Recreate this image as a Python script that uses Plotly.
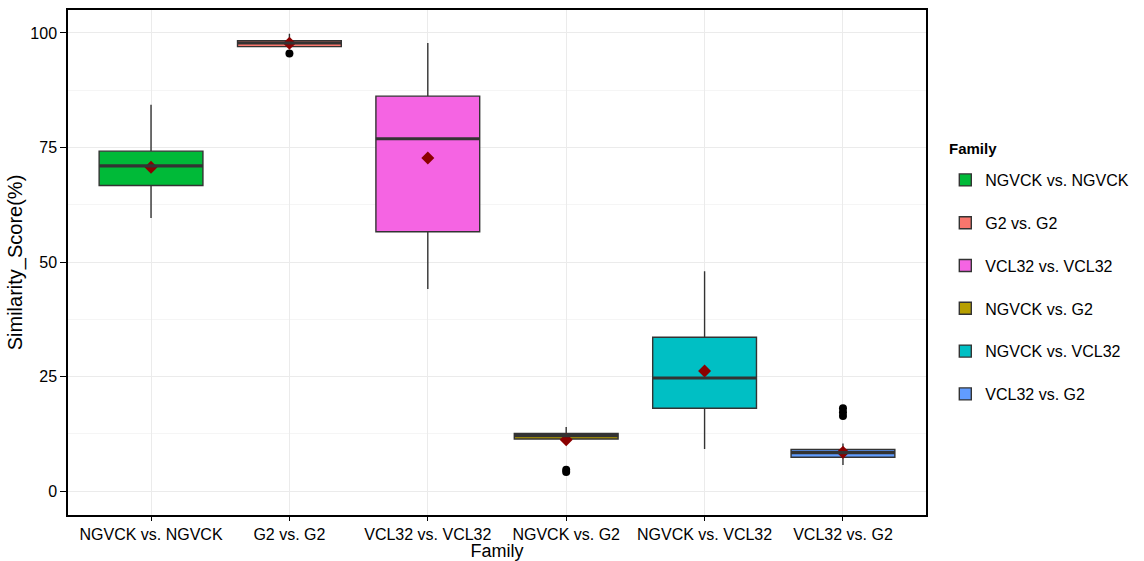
import plotly.graph_objects as go

categories = ["NGVCK vs. NGVCK", "G2 vs. G2", "VCL32 vs. VCL32",
              "NGVCK vs. G2", "NGVCK vs. VCL32", "VCL32 vs. G2"]
colors = ["#00BA38", "#F8766D", "#F564E3", "#B79F00", "#00BFC4", "#619CFF"]
lower_whisker = [59.6, 97.0, 44.1, 11.2, 9.2, 5.7]
q1 = [66.7, 97.0, 56.6, 11.4, 18.1, 7.4]
median = [71.0, 97.8, 76.9, 12.1, 24.7, 8.4]
q3 = [74.2, 98.3, 86.2, 12.6, 33.6, 9.1]
upper_whisker = [84.3, 99.8, 97.8, 14.0, 48.0, 10.4]
means = [70.7, 97.75, 72.7, 11.2, 26.2, 8.5]
outlier_cat = ["G2 vs. G2", "NGVCK vs. G2", "NGVCK vs. G2",
               "VCL32 vs. G2", "VCL32 vs. G2", "VCL32 vs. G2"]
outlier_val = [95.5, 4.2, 4.7, 16.4, 17.2, 18.1]

FONT = "Liberation Sans, Arial, sans-serif"
BOX_W = 0.75

fig = go.Figure()
for i, cat in enumerate(categories):
    fig.add_trace(go.Box(
        x=[cat], q1=[q1[i]], median=[median[i]], q3=[q3[i]],
        lowerfence=[lower_whisker[i]], upperfence=[upper_whisker[i]],
        name=cat, legendgroup=cat, fillcolor=colors[i],
        line=dict(color="#333333", width=1.4), whiskerwidth=0,
        width=BOX_W, boxpoints=False, showlegend=True,
    ))
    # thicker median line
    fig.add_shape(type="line", xref="x", yref="y",
                  x0=i - BOX_W / 2, x1=i + BOX_W / 2,
                  y0=median[i], y1=median[i],
                  line=dict(color="#333333", width=3.2))

fig.add_trace(go.Scatter(
    x=outlier_cat, y=outlier_val, mode="markers",
    marker=dict(color="black", size=8), showlegend=False, hoverinfo="y"))
fig.add_trace(go.Scatter(
    x=categories, y=means, mode="markers",
    marker=dict(color="#8B0000", size=10, symbol="diamond"),
    showlegend=False, hoverinfo="y"))

fig.add_annotation(text="<b>Family</b>", xref="paper", yref="paper",
                   x=1.0245, y=(515 - 148) / 505, xanchor="left", yanchor="middle",
                   showarrow=False, font=dict(size=15, family=FONT))

fig.update_layout(
    width=1144, height=561,
    margin=dict(l=68, r=215, t=10, b=46),
    paper_bgcolor="white", plot_bgcolor="white",
    font=dict(family=FONT, size=16, color="black"),
    boxmode="overlay",
    legend=dict(
        x=1.0225, xanchor="left", y=(515 - 163) / 505, yanchor="top",
        font=dict(size=16), tracegroupgap=19, itemwidth=30,
        bgcolor="rgba(0,0,0,0)",
    ),
    xaxis=dict(
        type="category", categoryorder="array", categoryarray=categories,
        range=[-0.6, len(categories) - 0.4], automargin=False,
        showgrid=True, gridcolor="#ebebeb", gridwidth=1,
        showline=True, linecolor="black", linewidth=1.5, mirror=True,
        ticks="outside", ticklen=4, tickcolor="black",
        tickfont=dict(size=16),
        title=dict(text="Family", font=dict(size=18), standoff=0),
        zeroline=False,
    ),
    yaxis=dict(
        range=[-5.2, 105], automargin=False,
        tickvals=[0, 25, 50, 75, 100],
        showgrid=True, gridcolor="#ebebeb", gridwidth=1,
        minor=dict(tickvals=[12.5, 37.5, 62.5, 87.5], showgrid=True,
                   gridcolor="#f5f5f5", gridwidth=1, ticks=""),
        showline=True, linecolor="black", linewidth=1.5, mirror=True,
        ticks="outside", ticklen=6, tickcolor="black",
        tickfont=dict(size=16),
        title=dict(text="Similarity_Score(%)", font=dict(size=20), standoff=2),
        zeroline=False,
    ),
)

fig.write_html("out.html")
